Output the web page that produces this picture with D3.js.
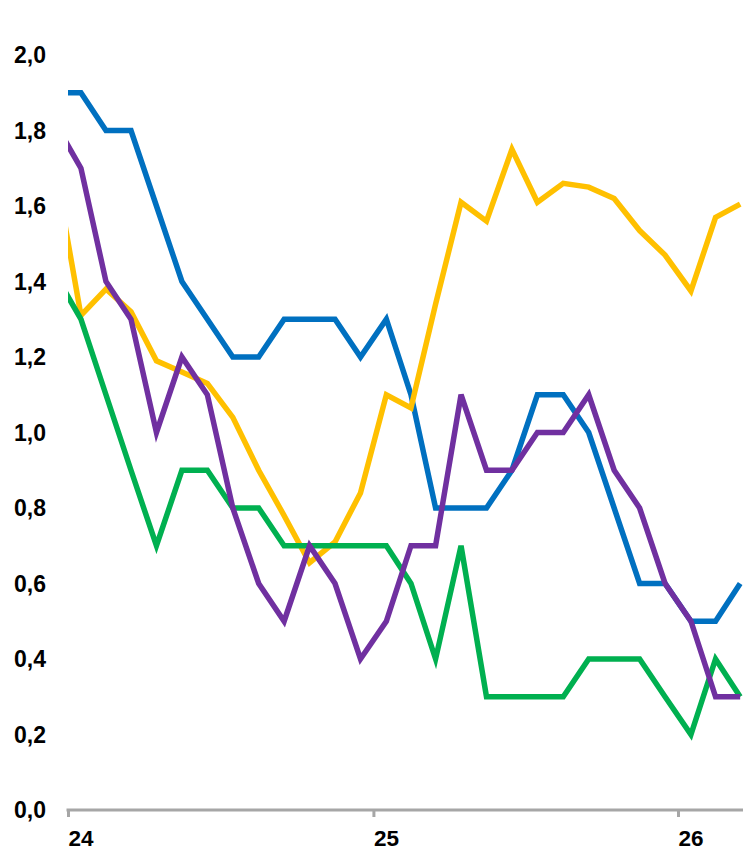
<!DOCTYPE html>
<html>
<head>
<meta charset="utf-8">
<script src="https://cdn.jsdelivr.net/npm/d3@7"></script>
<style>
  html, body { margin: 0; padding: 0; background: #ffffff; }
  svg { display: block; }
</style>
</head>
<body>
<script>
// Months from Dec 2023 to Mar 2026 (first point falls left of the axis and is clipped)
const months = ["2023-12","2024-01","2024-02","2024-03","2024-04","2024-05","2024-06","2024-07","2024-08","2024-09","2024-10","2024-11","2024-12",
                "2025-01","2025-02","2025-03","2025-04","2025-05","2025-06","2025-07","2025-08","2025-09","2025-10","2025-11","2025-12",
                "2026-01","2026-02","2026-03"];

const blueValues   = [1.90,1.90,1.80,1.80,1.60,1.40,1.30,1.20,1.20,1.30,1.30,1.30,1.20,1.30,1.10,0.80,0.80,0.80,0.90,1.10,1.10,1.00,0.80,0.60,0.60,0.50,0.50,0.60];
const yellowValues = [1.70,1.31,1.38,1.32,1.19,1.16,1.13,1.04,0.90,0.78,0.655,0.71,0.84,1.10,1.065,1.34,1.61,1.56,1.75,1.61,1.66,1.65,1.62,1.535,1.47,1.375,1.57,1.605];
const greenValues  = [1.42,1.30,1.10,0.90,0.70,0.90,0.90,0.80,0.80,0.70,0.70,0.70,0.70,0.70,0.60,0.40,0.70,0.30,0.30,0.30,0.30,0.40,0.40,0.40,0.30,0.20,0.40,0.30];
const purpleValues = [1.82,1.70,1.40,1.30,1.00,1.20,1.10,0.80,0.60,0.50,0.70,0.60,0.40,0.50,0.70,0.70,1.10,0.90,0.90,1.00,1.00,1.10,0.90,0.80,0.60,0.50,0.30,0.30];

const yTicks = [0, 0.2, 0.4, 0.6, 0.8, 1.0, 1.2, 1.4, 1.6, 1.8, 2.0];
const xTickLabels = ["24", "25", "26"];

const series = [
  { name: "blue",   values: blueValues,   color: "#0070C0" },
  { name: "yellow", values: yellowValues, color: "#FFC000" },
  { name: "green",  values: greenValues,  color: "#00B050" },
  { name: "purple", values: purpleValues, color: "#7030A0" }
];

const W = 743, H = 850;
const mLeft = 68, mRight = 743, mTop = 55, mBottom = 810;

const svg = d3.select("body").append("svg").attr("width", W).attr("height", H);

const parse = d3.timeParse("%Y-%m");
// midpoint of each month
const dates = months.map(m => {
  const s = parse(m);
  const e = d3.timeMonth.offset(s, 1);
  return new Date((s.getTime() + e.getTime()) / 2);
});

const x = d3.scaleTime()
  .domain([new Date(2024, 0, 1), new Date(2026, 0, 1)])
  .range([mLeft, 678]);

const y = d3.scaleLinear().domain([0, 2]).range([mBottom, mTop]);

// clip
svg.append("defs").append("clipPath").attr("id", "plot")
  .append("rect").attr("x", mLeft).attr("y", 0).attr("width", mRight - mLeft).attr("height", H);

// Y labels
svg.append("g").selectAll("text").data(yTicks).join("text")
  .attr("x", 46)
  .attr("y", d => y(d))
  .attr("dy", "0.36em")
  .attr("text-anchor", "end")
  .attr("font-family", "Liberation Sans, Arial, sans-serif")
  .attr("font-weight", "bold")
  .attr("font-size", 23)
  .attr("fill", "#000")
  .text(d => d3.format(".1f")(d).replace(".", ","));

// X axis
const yearTicks = [new Date(2024, 0, 1), new Date(2025, 0, 1), new Date(2026, 0, 1)];
const xAxis = d3.axisBottom(x)
  .tickValues(yearTicks)
  .tickSize(7)
  .tickSizeOuter(0)
  .tickFormat((d, i) => xTickLabels[i]);

const gx = svg.append("g").attr("transform", `translate(0,${mBottom})`).call(xAxis);
gx.select(".domain").remove();
gx.insert("line", ":first-child")
  .attr("x1", mLeft - 1.5).attr("x2", mRight)
  .attr("y1", 0).attr("y2", 0)
  .attr("stroke", "#A6A6A6").attr("stroke-width", 3);
gx.selectAll(".tick line").attr("stroke", "#A6A6A6").attr("stroke-width", 3);
gx.selectAll(".tick text")
  .attr("text-anchor", "start")
  .attr("x", 0)
  .attr("y", 36)
  .attr("dy", 0)
  .attr("font-family", "Liberation Sans, Arial, sans-serif")
  .attr("font-weight", "bold")
  .attr("font-size", 22.5)
  .attr("fill", "#000");

// Lines
const line = d3.line()
  .x((d, i) => x(dates[i]))
  .y(d => y(d));

const g = svg.append("g").attr("clip-path", "url(#plot)");
series.forEach(s => {
  g.append("path")
    .datum(s.values)
    .attr("fill", "none")
    .attr("stroke", s.color)
    .attr("stroke-width", 5.5)
    .attr("stroke-linejoin", "miter")
    .attr("stroke-miterlimit", 4)
    .attr("d", line);
});
</script>
</body>
</html>
